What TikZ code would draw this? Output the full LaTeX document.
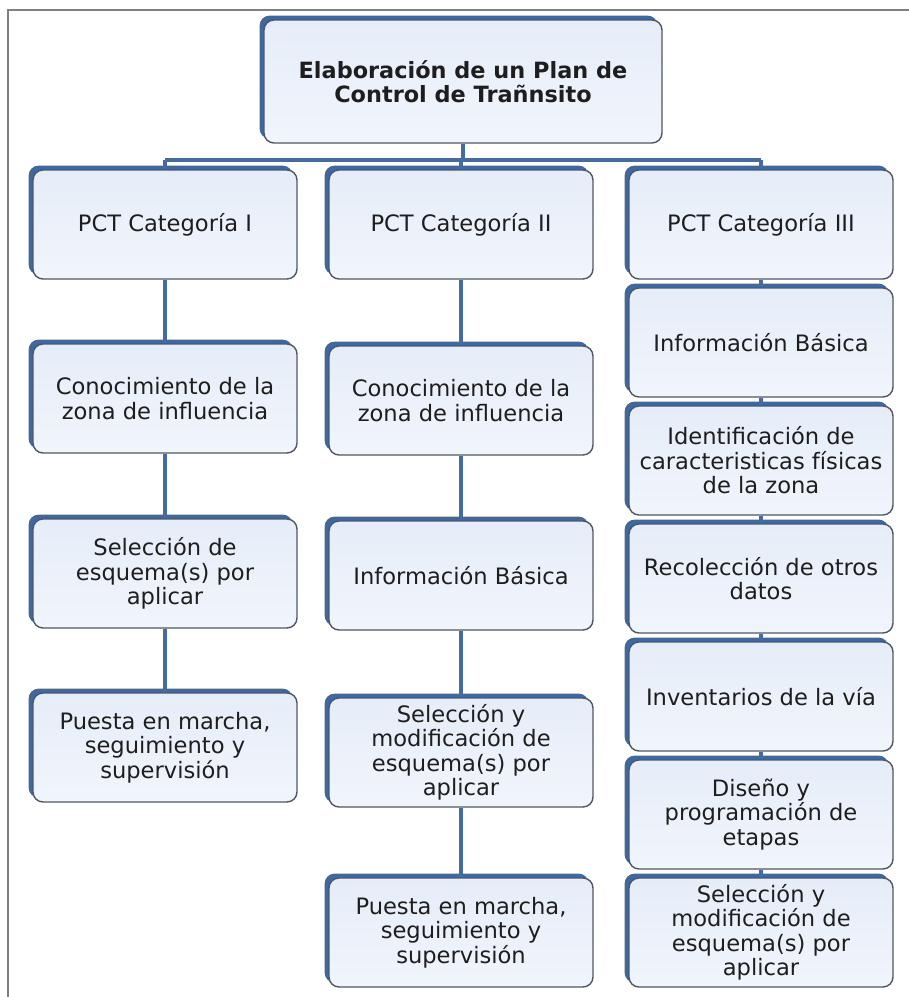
\documentclass[tikz,border=0pt]{standalone}
\usepackage{fontspec}
\setmainfont{DejaVu Sans}
\usetikzlibrary{shadows}

\definecolor{boxblue}{RGB}{62,105,160}
\definecolor{linkblue}{RGB}{68,108,158}
\definecolor{boxedge}{RGB}{82,86,96}
\definecolor{boxtop}{RGB}{230,237,248}
\definecolor{boxbot}{RGB}{241,245,252}
\definecolor{framegray}{RGB}{128,128,128}
\definecolor{textgray}{RGB}{30,30,30}

\tikzset{
  stepbox/.style={rectangle, rounded corners=5pt, draw=boxedge, line width=0.7pt,
    top color=boxtop, bottom color=boxbot, text=textgray, align=center,
    minimum width=132pt, minimum height=54.5pt, inner sep=2pt,
    font=\fontsize{11.3}{12.2}\selectfont,
    general shadow={fill=boxblue, shadow xshift=-2.2pt, shadow yshift=2.2pt}},
  titlebox/.style={stepbox, minimum width=199pt, minimum height=61.5pt,
    font=\fontsize{11.2}{12.2}\selectfont\bfseries},
  link/.style={draw=linkblue, line width=2pt}
}

\begin{document}
\begin{tikzpicture}[x=0.5pt, y=-0.5pt]
  \useasboundingbox (0,0) rectangle (909,997);
  % marco
  \draw[framegray, line width=1pt] (909,10) -- (8,10) -- (8,997);

  % caja principal
  \node[titlebox] (plan) at (463,81.5) {Elaboración de un Plan de\\Control de Trañnsito};
  \coordinate (bar) at (461,160);

  % columna I
  \node[stepbox] (c1a) at (165,224.5) {PCT Categoría I};
  \node[stepbox] (c1b) at (165,398.5) {Conocimiento de la\\zona de influencia};
  \node[stepbox] (c1c) at (165,573.5) {Selección de\\esquema(s) por\\aplicar};
  \node[stepbox] (c1d) at (165,747.5) {Puesta en marcha,\\seguimiento y\\supervisión};

  % columna II
  \node[stepbox] (c2a) at (461,224.5) {PCT Categoría II};
  \node[stepbox] (c2b) at (461,400.5) {Conocimiento de la\\zona de influencia};
  \node[stepbox] (c2c) at (461,575.5) {Información Básica};
  \node[stepbox] (c2d) at (461,752.5) {Selección y\\modificación de\\esquema(s) por\\aplicar};
  \node[stepbox] (c2e) at (461,932.5) {Puesta en marcha,\\seguimiento y\\supervisión};

  % columna III
  \node[stepbox] (c3a) at (761,224.5) {PCT Categoría III};
  \node[stepbox] (c3b) at (761,342.5) {Información Básica};
  \node[stepbox] (c3c) at (761,460.5) {Identificación de\\caracteristicas físicas\\de la zona};
  \node[stepbox] (c3d) at (761,578.5) {Recolección de otros\\datos};
  \node[stepbox] (c3e) at (761,696.5) {Inventarios de la vía};
  \node[stepbox] (c3f) at (761,814.5) {Diseño y\\programación de\\etapas};
  \node[stepbox] (c3g) at (761,932.5) {Selección y\\modificación de\\esquema(s) por\\aplicar};

  % conectores
  \draw[link] (plan.south) -- (plan.south |- bar);
  \draw[link] (c1a.north |- bar) -- (c3a.north |- bar);
  \draw[link] (c1a.north |- bar) -- (c1a.north);
  \draw[link] (c2a.north |- bar) -- (c2a.north);
  \draw[link] (c3a.north |- bar) -- (c3a.north);

  \draw[link] (c1a) -- (c1b);
  \draw[link] (c1b) -- (c1c);
  \draw[link] (c1c) -- (c1d);

  \draw[link] (c2a) -- (c2b);
  \draw[link] (c2b) -- (c2c);
  \draw[link] (c2c) -- (c2d);
  \draw[link] (c2d) -- (c2e);

  \foreach \a/\b in {c3a/c3b, c3b/c3c, c3c/c3d, c3d/c3e, c3e/c3f, c3f/c3g}
    \draw[link] (\a) -- (\b);
\end{tikzpicture}
\end{document}
